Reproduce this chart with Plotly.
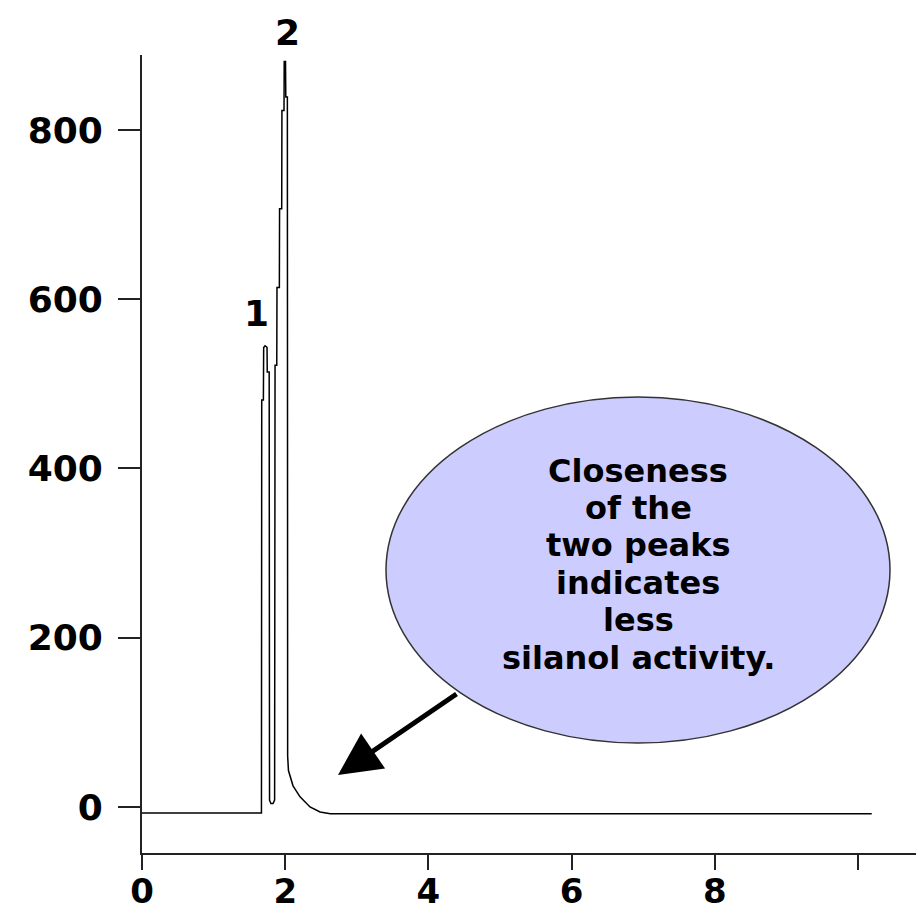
import plotly.graph_objects as go

# ---- data ----
time_min = [0.00, 1.668, 1.672, 1.695, 1.699, 1.718, 1.746, 1.749, 1.776, 1.781,
            1.80, 1.83, 1.852, 1.858, 1.882, 1.885, 1.918, 1.921, 1.951, 1.954,
            1.983, 1.986, 2.004, 2.008, 2.030, 2.034, 2.045, 2.067, 2.109, 2.207,
            2.346, 2.486, 2.63, 10.19]
signal = [-7, -7, 481, 481, 543, 545, 543, 514, 514, 8,
          4, 4, 8, 522, 522, 614, 614, 707, 707, 823,
          823, 881, 881, 839, 839, 60, 43, 37, 25, 12,
          0, -6, -8, -8]

x_tick_vals = [0, 2, 4, 6, 8, 10]
x_tick_text = ["0", "2", "4", "6", "8", ""]
y_tick_vals = [0, 200, 400, 600, 800]
y_tick_text = ["0", "200", "400", "600", "800"]

peak_labels = ["1", "2"]
note_lines = ["Closeness", "of the", "two peaks", "indicates", "less", "silanol activity."]

# ---- layout geometry (page pixels; the page body adds an 8px offset) ----
OFF = 8
PAGE_W, PAGE_H = 924, 910
W, H = PAGE_W - OFF, PAGE_H - OFF
PLOT_LEFT, PLOT_RIGHT, PLOT_TOP, PLOT_BOTTOM = 142, 924, 55, 853
L = PLOT_LEFT - OFF
R = 0
T = PLOT_TOP - OFF
B = PAGE_H - PLOT_BOTTOM
PW, PH = PLOT_RIGHT - PLOT_LEFT, PLOT_BOTTOM - PLOT_TOP


def px(xp):
    return (xp - PLOT_LEFT) / PW


def py(yp):
    return (PLOT_BOTTOM - yp) / PH


FONT = "DejaVu Sans"
AX_COLOR = "#222222"

fig = go.Figure()
fig.add_trace(go.Scatter(
    x=time_min, y=signal, mode="lines",
    line=dict(color="black", width=1.5),
    showlegend=False, hoverinfo="skip",
))

fig.update_layout(
    width=W, height=H,
    margin=dict(l=L, r=R, t=T, b=B, pad=0),
    paper_bgcolor="white", plot_bgcolor="white",
    font=dict(family=FONT, size=36, color="black", weight="bold"),
    xaxis=dict(
        range=[0, 10.92], showgrid=False, zeroline=False, automargin=False,
        showline=True, linecolor=AX_COLOR, linewidth=2,
        ticks="outside", ticklen=15, tickwidth=1.5, tickcolor=AX_COLOR,
        tickvals=x_tick_vals, ticktext=x_tick_text,
        tickfont=dict(family=FONT, size=34, weight="bold"),
        ticklabelstandoff=-8,
    ),
    yaxis=dict(
        range=[-54.4, 888.6], showgrid=False, zeroline=False, automargin=False,
        showline=True, linecolor=AX_COLOR, linewidth=2,
        ticks="outside", ticklen=22, tickwidth=1.5, tickcolor=AX_COLOR,
        tickvals=y_tick_vals, ticktext=y_tick_text,
        tickfont=dict(family=FONT, size=36, weight="bold"),
        ticklabelstandoff=8,
    ),
)

# ellipse callout
fig.add_shape(
    type="circle", xref="paper", yref="paper",
    x0=px(386), x1=px(890), y0=py(743), y1=py(397),
    fillcolor="#CCCCFF", line=dict(color="#333333", width=1.5), layer="above",
)

# arrow from ellipse to baseline
fig.add_annotation(
    x=2.737, y=37.8, xref="x", yref="y",
    ax=120, ay=-82, axref="pixel", ayref="pixel",
    showarrow=True, arrowhead=2, arrowsize=1.7, arrowwidth=5, arrowcolor="black",
    text="",
)

# peak labels
peak_label_px = [(256, 313), (287, 33)]
for lab, (lx, ly) in zip(peak_labels, peak_label_px):
    fig.add_annotation(
        x=px(lx), y=py(ly), xref="paper", yref="paper", text=lab, showarrow=False,
        font=dict(family=FONT, size=36, weight="bold", color="black"),
        xanchor="center", yanchor="middle", borderpad=0,
    )

# note text lines
line_y = [471, 508, 545, 583, 620, 658]
for txt, yy in zip(note_lines, line_y):
    fig.add_annotation(
        x=px(638), y=py(yy), xref="paper", yref="paper", text=txt, showarrow=False,
        font=dict(family=FONT, size=32, weight="bold", color="black"),
        xanchor="center", yanchor="middle", borderpad=0,
    )

fig.write_html("out.html")
